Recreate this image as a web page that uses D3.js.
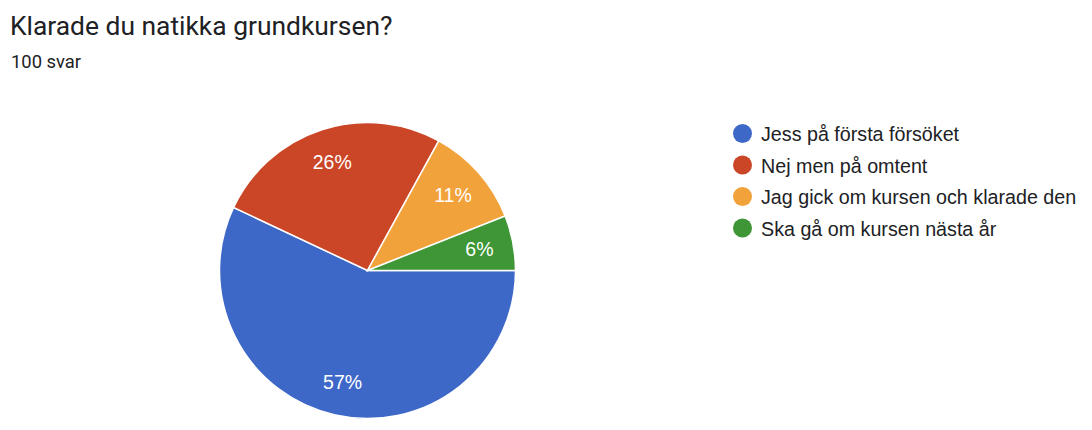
<!DOCTYPE html>
<html><head><meta charset="utf-8">
<script src="https://cdn.jsdelivr.net/npm/d3@7/dist/d3.min.js"></script>
<style>body{margin:0;background:#fff;}svg{display:block;}</style>
</head><body>
<svg id="c" width="1092" height="430"></svg>
<script>
const categories = ["Jess på första försöket","Nej men på omtent","Jag gick om kursen och klarade den","Ska gå om kursen nästa år"];
const values = [57, 26, 11, 6];
const colors = ["#3e68c8","#cb4527","#f2a23b","#3f9636"];
const title = "Klarade du natikka grundkursen?";
const subtitle = "100 svar";

const svg = d3.select("#c");
svg.append("text").attr("x",10).attr("y",35).attr("font-family","Roboto").attr("font-size",26.4).attr("fill","#202124").text(title);
svg.append("text").attr("x",11).attr("y",68).attr("font-family","Roboto").attr("font-size",18.4).attr("fill","#202124").text(subtitle);

const cx = 367.5, cy = 270.5, r = 148;
const data = categories.map((c,i)=>({c, v: values[i], col: colors[i]}));
const pie = d3.pie().sort(null).value(d=>d.v).startAngle(Math.PI/2).endAngle(Math.PI/2 + 2*Math.PI);
const arcs = pie(data);
const arc = d3.arc().innerRadius(0).outerRadius(r);
const labelArc = d3.arc().innerRadius(r*0.77).outerRadius(r*0.77);
const g = svg.append("g").attr("transform",`translate(${cx},${cy})`);
g.selectAll("path").data(arcs).join("path").attr("d",arc).attr("fill",d=>d.data.col).attr("stroke","#fff").attr("stroke-width",1.5);
const total = d3.sum(values);
g.selectAll("text").data(arcs).join("text")
  .attr("transform",d=>`translate(${labelArc.centroid(d)})`)
  .attr("text-anchor","middle").attr("dy","0.36em")
  .attr("font-family","Liberation Sans, Arial").attr("font-size",19.5).attr("fill","#fff")
  .text(d=>Math.round(d.data.v/total*100)+"%");

const lg = svg.append("g");
const rows = lg.selectAll("g").data(data).join("g").attr("transform",(d,i)=>`translate(742.5,${133.5+i*31.5})`);
rows.append("circle").attr("r",9.5).attr("fill",d=>d.col);
rows.append("text").attr("x",18.5).attr("dy","0.38em").attr("font-family","Liberation Sans, Arial").attr("font-size",19.7).attr("fill","#202124").text(d=>d.c);
</script>
</body></html>
